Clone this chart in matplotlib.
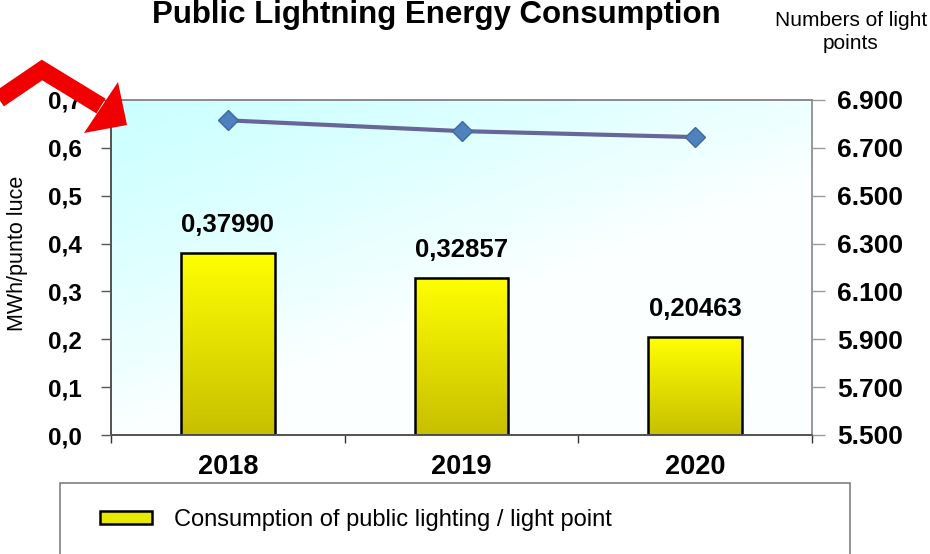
import numpy as np
import matplotlib
matplotlib.use('Agg')
import matplotlib.pyplot as plt
from matplotlib.patches import Polygon, Rectangle, Patch
from matplotlib.lines import Line2D
from matplotlib.transforms import Affine2D

plt.rcParams['font.family'] = ['Liberation Sans', 'DejaVu Sans']

# ---------------- data ----------------
years = ['2018', '2019', '2020']
consumption = [0.37990, 0.32857, 0.20463]
value_labels = ['0,37990', '0,32857', '0,20463']
light_points = [6815, 6770, 6745]
left_ticks = [0.0, 0.1, 0.2, 0.3, 0.4, 0.5, 0.6, 0.7]
left_ticklabels = ['0,0', '0,1', '0,2', '0,3', '0,4', '0,5', '0,6', '0,7']
right_ticks = [5500, 5700, 5900, 6100, 6300, 6500, 6700, 6900]
right_ticklabels = ['5.500', '5.700', '5.900', '6.100', '6.300', '6.500', '6.700', '6.900']
title = 'Public Lightning Energy Consumption'
left_label = 'MWh/punto luce'
right_label = 'Numbers of light\npoints'
legend_label = 'Consumption of public lighting / light point'

# ---------------- figure ----------------
W, H = 930, 554
fig = plt.figure(figsize=(W / 100, H / 100), dpi=100)
pix = Affine2D().scale(1 / W, -1 / H).translate(0, 1) + fig.transFigure


def fx(p):
    return p / W


def fy(p):
    return 1 - p / H


L, R, T, B = 111, 812, 100, 435
ax = fig.add_axes([fx(L), fy(B), fx(R) - fx(L), fy(T) - fy(B)])
ax2 = ax.twinx()

x = np.arange(len(years))
xlim = (-0.5, len(years) - 0.5)
ylim = (0, 0.7)

# plot-area gradient background
nx, ny = 300, 150
U, V = np.meshgrid(np.linspace(0, 1, nx), np.linspace(1, 0, ny))
t = (U + 1.3 * (1 - V)) / 2.3
m = np.clip(t / 0.58, 0, 1) ** 1.3
c0 = np.array([0.80, 1.0, 1.0])
c1 = np.array([0.99, 1.0, 1.0])
bg = c0[None, None, :] * (1 - m[..., None]) + c1[None, None, :] * m[..., None]
ax.imshow(bg, extent=[xlim[0], xlim[1], ylim[0], ylim[1]], aspect='auto',
          zorder=0, origin='upper', interpolation='bilinear')

# bars with vertical gradient
bars = ax.bar(x, consumption, width=0.40, facecolor='none', edgecolor='black',
              linewidth=1.8, zorder=3)
g = np.linspace(0, 1, 128)[:, None]
top = np.array([1.0, 1.0, 0.0])
bot = np.array([0.78, 0.75, 0.0])
bar_img = (top[None, :] * (1 - g) + bot[None, :] * g)[:, None, :]
for b in bars:
    ax.imshow(bar_img, extent=[b.get_x(), b.get_x() + b.get_width(), 0, b.get_height()],
              aspect='auto', origin='upper', zorder=2, interpolation='bilinear')

for xi, v, lab in zip(x, consumption, value_labels):
    ax.annotate(lab, (xi, v), xytext=(0, 20), textcoords='offset points',
                ha='center', va='center', fontsize=18.5, fontweight='bold', zorder=6)

ax.set_xlim(*xlim)
ax.set_ylim(*ylim)
ax.set_yticks(left_ticks)
ax.set_yticklabels(left_ticklabels, fontweight='bold', fontsize=17.5)
ax.set_xticks(x)
ax.set_xticklabels(years, fontweight='bold', fontsize=19.5)
ax.set_xticks([-0.5, 0.5, 1.5, 2.5], minor=True)
ax.tick_params(axis='x', which='major', length=0, pad=14)
ax.tick_params(axis='x', which='minor', length=6, width=1, color='#333333', direction='out')
ax.tick_params(axis='y', which='major', length=7, width=1, color='#555555', direction='out', pad=14)

# line on secondary axis
ax2.plot(x, light_points, color='#666699', lw=3, marker='D', ms=10,
         mfc='#4F81BD', mec='#3F6A9E', mew=1, zorder=5)
ax2.set_ylim(5500, 6900)
ax2.set_yticks(right_ticks)
ax2.set_yticklabels(right_ticklabels, fontweight='bold', fontsize=19)
ax2.tick_params(axis='y', length=9, width=1, color='#999999', direction='out', pad=9)

for a in (ax, ax2):
    a.spines['top'].set_color('#8c8c8c')
    a.spines['right'].set_color('#999999')
    a.spines['left'].set_color('#555555')
    a.spines['bottom'].set_color('#555555')
    for s in a.spines.values():
        s.set_linewidth(1.3)

# texts
fig.text(fx(436), fy(23), title, ha='center', va='baseline', fontsize=22.5, fontweight='bold')
fig.text(fx(851), fy(32), right_label, ha='center', va='center', fontsize=15,
         multialignment='center', linespacing=1.25)
fig.text(fx(18), fy(253), left_label, rotation=90, ha='center', va='center', fontsize=15.5)

# legend box
fig.patches.append(Rectangle((60, 483), 790, 90, transform=pix, facecolor='white',
                             edgecolor='#808080', lw=1.2, zorder=1))
handle = Patch(facecolor='#E8E800', edgecolor='black', lw=1.8)
fig.legend(handles=[handle], labels=[legend_label], loc='center left',
           bbox_to_anchor=(fx(100), fy(520)), frameon=False, fontsize=17,
           handlelength=2.2, handleheight=0.5, handletextpad=0.95,
           borderpad=0, borderaxespad=0)

# red bent arrow (decoration)
fig.lines.append(Line2D([-8, 42, 101], [104, 70, 106], transform=pix, color='#F00000',
                        lw=12.5, solid_joinstyle='miter', solid_capstyle='butt', zorder=20))
fig.patches.append(Polygon([[127, 125], [118, 82], [84, 133]], closed=True,
                           transform=pix, facecolor='#F00000', edgecolor='none', zorder=21))

fig.savefig('out.png', dpi=100)
